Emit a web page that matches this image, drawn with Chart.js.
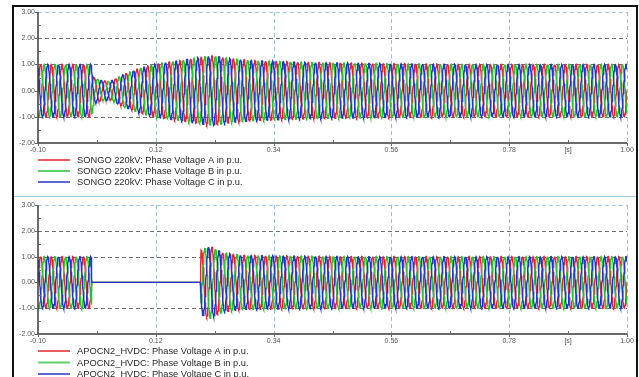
<!DOCTYPE html>
<html>
<head>
<meta charset="utf-8">
<script src="https://cdn.jsdelivr.net/npm/chart.js@4/dist/chart.umd.min.js"></script>
<style>
  html, body { margin: 0; padding: 0; background: #fff; width: 639px; height: 377px; overflow: hidden; }
  #frame { position: absolute; left: 12px; top: 5px; width: 626px; height: 390px; border: 2px solid #111; border-bottom: none; box-sizing: border-box; }
  #sep { position: absolute; left: 14px; top: 196px; width: 622px; height: 1px; background: #a6cbe0; }
  canvas { position: absolute; left: 0; }
  #songo { top: 0; }
  #apocn { top: 190px; }
</style>
</head>
<body>
<div id="frame"></div>
<div id="sep"></div>
<canvas id="songo" width="639" height="190"></canvas>
<canvas id="apocn" width="639" height="187"></canvas>
<script>
// Axis ticks (time in s, voltage in p.u.)
const xTicks = [-0.10, 0.12, 0.34, 0.56, 0.78, 1.00];
const yTicks = [-2, -1, 0, 1, 2, 3];
const timeUnitLabel = '[s]';

// System frequency and phase layout
const FREQ = 50;
const phaseShift = [0, -120, 120];
const phaseColors = ['#e0262e', '#27c236', '#2436c6'];

const songoLabels = [
  'SONGO 220kV: Phase Voltage A in p.u.',
  'SONGO 220kV: Phase Voltage B in p.u.',
  'SONGO 220kV: Phase Voltage C in p.u.'
];
const apocnLabels = [
  'APOCN2_HVDC: Phase Voltage A in p.u.',
  'APOCN2_HVDC: Phase Voltage B in p.u.',
  'APOCN2_HVDC: Phase Voltage C in p.u.'
];

// Peak voltage envelope (time s -> amplitude p.u.) at SONGO 220kV
const songoEnvT = [-0.10, 0.000, 0.004, 0.016, 0.034, 0.060, 0.090, 0.120, 0.165, 0.202, 0.227, 0.260, 0.300, 0.400, 0.550, 0.700, 1.000];
const songoEnvA = [ 1.00, 1.00,  0.50,  0.40,  0.34,  0.62,  0.86,  1.02,  1.15,  1.27,  1.33,  1.22,  1.15,  1.08,  1.03,  1.00,  1.00];

// Peak voltage envelope at APOCN2_HVDC (blocked between 0.0 s and ~0.2 s)
const apocnEnvT = [-0.10, 0.000, 0.0006, 0.2035, 0.2045, 0.221, 0.245, 0.280, 0.350, 0.500, 1.000];
const apocnEnvA = [ 1.00, 1.00,  0.00,   0.00,   1.25,   1.40,  1.15,  1.05,  1.03,  1.00,  1.00];

const STEP = 0.0005;

function envelopeAt(T, A, t) {
  if (t <= T[0]) return A[0];
  for (let i = 1; i < T.length; i++) {
    if (t <= T[i]) {
      const f = (t - T[i - 1]) / (T[i] - T[i - 1]);
      return A[i - 1] + f * (A[i] - A[i - 1]);
    }
  }
  return A[A.length - 1];
}

function phaseWave(T, A, shiftDeg) {
  const pts = [];
  const n = Math.round((xTicks[xTicks.length - 1] - xTicks[0]) / STEP);
  for (let k = 0; k <= n; k++) {
    const t = xTicks[0] + k * STEP;
    const amp = envelopeAt(T, A, t);
    pts.push({ x: t, y: amp * Math.sin(2 * Math.PI * FREQ * t + shiftDeg * Math.PI / 180) });
  }
  return pts;
}

const FONT = '"Liberation Sans", Arial, sans-serif';

function decorPlugin(legendTop, legendGap) {
  return {
    id: 'panelDecor',
    beforeDatasetsDraw(chart) {
      const { ctx, chartArea: a, scales: { x, y } } = chart;
      ctx.save();
      ctx.lineWidth = 1;
      ctx.setLineDash([4, 3]);
      yTicks.forEach((v, i) => {
        if (i === 0 || v === 0) return;
        const py = Math.round(y.getPixelForValue(v)) + 0.5;
        ctx.strokeStyle = i === yTicks.length - 1 ? '#a6cbe0' : '#6e6e6e';
        ctx.beginPath(); ctx.moveTo(a.left, py); ctx.lineTo(a.right, py); ctx.stroke();
      });
      xTicks.forEach((v, i) => {
        if (i === 0) return;
        const px = Math.round(x.getPixelForValue(v)) + 0.5;
        ctx.strokeStyle = '#97c1da';
        ctx.beginPath(); ctx.moveTo(px, a.top); ctx.lineTo(px, a.bottom); ctx.stroke();
      });
      ctx.restore();
    },
    afterDatasetsDraw(chart) {
      const { ctx, chartArea: a, scales: { x, y } } = chart;
      ctx.save();
      // axis lines
      ctx.strokeStyle = '#3a3a3a';
      ctx.lineWidth = 1.5;
      ctx.beginPath();
      ctx.moveTo(a.left, a.top); ctx.lineTo(a.left, a.bottom); ctx.lineTo(a.right, a.bottom);
      ctx.stroke();
      ctx.lineWidth = 1;
      ctx.strokeStyle = '#666';
      // y ticks, major and half-step minor
      yTicks.forEach((v, i) => {
        const py = Math.round(y.getPixelForValue(v)) + 0.5;
        ctx.beginPath(); ctx.moveTo(a.left - 3, py); ctx.lineTo(a.left, py); ctx.stroke();
        if (i < yTicks.length - 1) {
          const pm = Math.round(y.getPixelForValue(v + (yTicks[i + 1] - v) / 2)) + 0.5;
          ctx.beginPath(); ctx.moveTo(a.left, pm); ctx.lineTo(a.left + 3, pm); ctx.stroke();
        }
      });
      // x ticks, major and mid-step minor
      xTicks.forEach((v, i) => {
        const px = Math.round(x.getPixelForValue(v)) + 0.5;
        ctx.beginPath(); ctx.moveTo(px, a.bottom); ctx.lineTo(px, a.bottom + 3); ctx.stroke();
        if (i < xTicks.length - 1) {
          const pm = Math.round(x.getPixelForValue(v + (xTicks[i + 1] - v) / 2)) + 0.5;
          ctx.beginPath(); ctx.moveTo(pm, a.bottom - 3); ctx.lineTo(pm, a.bottom); ctx.stroke();
        }
      });
      // tick labels
      ctx.fillStyle = '#555';
      ctx.font = '7px ' + FONT;
      ctx.textAlign = 'right';
      ctx.textBaseline = 'middle';
      yTicks.forEach(v => ctx.fillText(v.toFixed(2), a.left - 3, y.getPixelForValue(v)));
      ctx.textAlign = 'center';
      xTicks.forEach(v => ctx.fillText(v.toFixed(2), x.getPixelForValue(v), a.bottom + 7));
      const lastGap = xTicks[xTicks.length - 1] - xTicks[xTicks.length - 2];
      ctx.fillText(timeUnitLabel, x.getPixelForValue(xTicks[xTicks.length - 2] + lastGap / 2), a.bottom + 7);
      // legend
      ctx.font = '9.3px ' + FONT;
      ctx.textAlign = 'left';
      chart.data.datasets.forEach((ds, i) => {
        const ly = legendTop + i * legendGap;
        ctx.strokeStyle = ds.borderColor;
        ctx.globalAlpha = 0.75;
        ctx.lineWidth = 2;
        ctx.beginPath(); ctx.moveTo(a.left, ly); ctx.lineTo(a.left + 32, ly); ctx.stroke();
        ctx.globalAlpha = 1;
        ctx.fillStyle = '#2a2a2a';
        ctx.fillText(ds.label, a.left + 39, ly + 0.5);
      });
      ctx.restore();
    }
  };
}

function makeChart(id, envT, envA, labels, padding, legendTop, legendGap) {
  const datasets = labels.map((label, i) => ({
    label,
    data: phaseWave(envT, envA, phaseShift[i]),
    borderColor: phaseColors[i],
    borderWidth: 1.4,
    pointRadius: 0,
    tension: 0,
    order: labels.length - i
  }));
  return new Chart(document.getElementById(id), {
    type: 'line',
    data: { datasets },
    options: {
      responsive: false,
      animation: false,
      parsing: false,
      normalized: true,
      devicePixelRatio: 1,
      events: [],
      layout: { padding },
      scales: {
        x: { type: 'linear', min: xTicks[0], max: xTicks[xTicks.length - 1], display: false },
        y: { type: 'linear', min: yTicks[0], max: yTicks[yTicks.length - 1], display: false }
      },
      plugins: { legend: { display: false }, tooltip: { enabled: false } }
    },
    plugins: [decorPlugin(legendTop, legendGap)]
  });
}

makeChart('songo', songoEnvT, songoEnvA, songoLabels, { left: 38, right: 12, top: 12, bottom: 47 }, 160, 11);
makeChart('apocn', apocnEnvT, apocnEnvA, apocnLabels, { left: 38, right: 12, top: 15, bottom: 43 }, 161, 11.5);
</script>
</body>
</html>
